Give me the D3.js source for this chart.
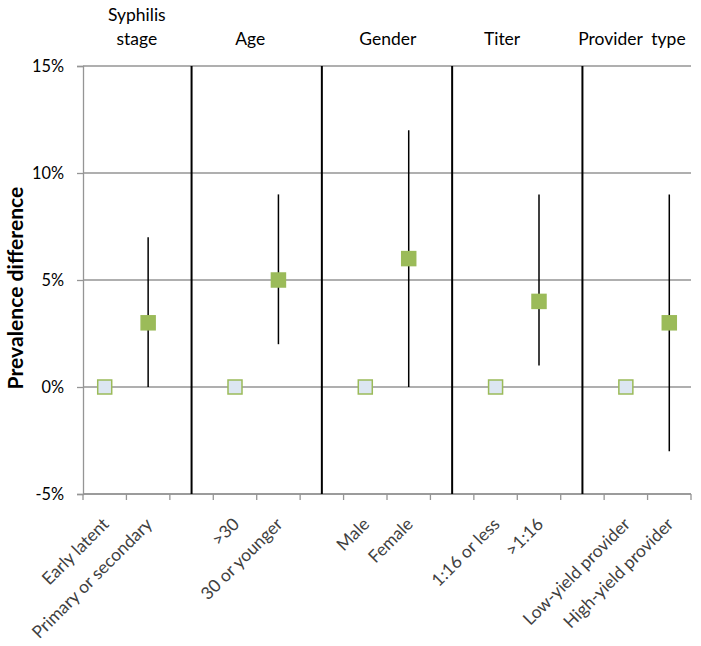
<!DOCTYPE html>
<html><head><meta charset="utf-8">
<script src="https://cdn.jsdelivr.net/npm/d3@7"></script>
<style>body{margin:0;background:#fff}svg{font-family:Lato,"Open Sans",sans-serif}</style>
</head><body><svg id="c" width="701" height="646"></svg>
<script>
// slots: 14 category positions; separators occupy the blank slots
const slots = ["Early latent","Primary or secondary","sep1",">30","30 or younger","sep2","Male","Female","sep3","1:16 or less",">1:16","sep4","Low-yield provider","High-yield provider"];
const categories = ["Early latent","Primary or secondary",">30","30 or younger","Male","Female","1:16 or less",">1:16","Low-yield provider","High-yield provider"];
const values = [0,3,0,5,0,6,0,4,0,3];
const lower = [null,0,null,2,null,0,null,1,null,-3];
const upper = [null,7,null,9,null,12,null,9,null,9];
const isReference = [true,false,true,false,true,false,true,false,true,false];
const separators = ["sep1","sep2","sep3","sep4"];
const groupTitles = [["Syphilis","stage"],["Age"],["Gender"],["Titer"],["Provider  type"]];
const yTicks = [-5,0,5,10,15];

const svg = d3.select("#c");

// fit font size so Lato matches the reference's text width
function fit(str, target, weight){
  const t = svg.append("text").attr("font-size",20).attr("font-weight",weight||"normal").text(str);
  const w = t.node().getComputedTextLength(); t.remove();
  return 20*target/w;
}
const fsTitle = fit("Gender",57);
const fsTick = fit("15%",32);
const fsYT = fit("Prevalence difference",203,"bold");
const fsX = fit("Early latent",86);

const x = d3.scaleBand().domain(slots).range([83,691]).padding(0);
const y = d3.scaleLinear().domain([-5,15]).range([494,66]);
const cx = d => x(d)+x.bandwidth()/2;
const grid = "#959595";

// gridlines
svg.append("g").selectAll("line").data(yTicks).join("line")
  .attr("x1",83).attr("x2",691).attr("y1",d=>y(d)).attr("y2",d=>y(d))
  .attr("stroke",grid).attr("stroke-width",1.3);

// y axis
const ya = svg.append("g").attr("transform","translate(83,0)")
  .call(d3.axisLeft(y).tickValues(yTicks).tickSize(6).tickFormat(d=>d+"%"));
ya.select(".domain").attr("stroke",grid).attr("stroke-width",1.3);
ya.selectAll(".tick line").attr("stroke",grid).attr("stroke-width",1.3);
ya.selectAll("text").attr("font-size",fsTick).attr("fill","#000").attr("x",-19).style("font-family","Lato,sans-serif");

// x axis
const xa = svg.append("g").attr("transform","translate(0,494)");
const tickPos = d3.range(slots.length+1).map(i=>83+i*x.bandwidth());
xa.append("line").attr("x1",83).attr("x2",691).attr("stroke",grid).attr("stroke-width",1.3);
xa.selectAll("line.t").data(tickPos).join("line").attr("class","t")
  .attr("x1",d=>d).attr("x2",d=>d).attr("y1",0).attr("y2",6)
  .attr("stroke",grid).attr("stroke-width",1.3);
xa.selectAll("text").data(categories).join("text")
  .attr("transform",d=>`translate(${cx(d)+1},${27}) rotate(-45)`)
  .attr("text-anchor","end").attr("dy","0.35em")
  .attr("font-size",fsX).attr("fill","#404040").text(d=>d);

// separators
svg.append("g").selectAll("line").data(separators).join("line")
  .attr("x1",d=>cx(d)).attr("x2",d=>cx(d)).attr("y1",y(15)).attr("y2",y(-5))
  .attr("stroke","#000").attr("stroke-width",2);

// group titles (positions in slot units)
const titleSlots = [1.24,3.85,7.02,9.65,12.64];
groupTitles.forEach((t,i)=>{
  const tx = 83 + titleSlots[i]*x.bandwidth();
  const txt = svg.append("text").attr("x",tx).attr("text-anchor","middle").attr("font-size",fsTitle).attr("fill","#000").style("white-space","pre");
  const y0 = t.length===2 ? 21 : 45;
  t.forEach((line,j)=>txt.append("tspan").attr("x",tx).attr("y",y0+j*24).text(line));
});

// whiskers
const pts = categories.map((c,i)=>({c,v:values[i],lo:lower[i],hi:upper[i],ref:isReference[i]}));
svg.append("g").selectAll("line").data(pts.filter(d=>d.lo!==null)).join("line")
  .attr("x1",d=>cx(d.c)).attr("x2",d=>cx(d.c)).attr("y1",d=>y(d.lo)).attr("y2",d=>y(d.hi))
  .attr("stroke","#000").attr("stroke-width",1.5);

// markers
const s = 14;
svg.append("g").selectAll("rect").data(pts).join("rect")
  .attr("x",d=>cx(d.c)-s/2).attr("y",d=>y(d.v)-s/2).attr("width",s).attr("height",s)
  .attr("fill",d=>d.ref?"#dce6f2":"#9bbb59").attr("stroke","#9bbb59").attr("stroke-width",1.5);

// y title
svg.append("text").attr("transform","translate(16,288) rotate(-90)").attr("text-anchor","middle")
  .attr("dy","0.35em").attr("font-size",fsYT).attr("font-weight","bold").attr("fill","#000").text("Prevalence difference");
</script></body></html>
